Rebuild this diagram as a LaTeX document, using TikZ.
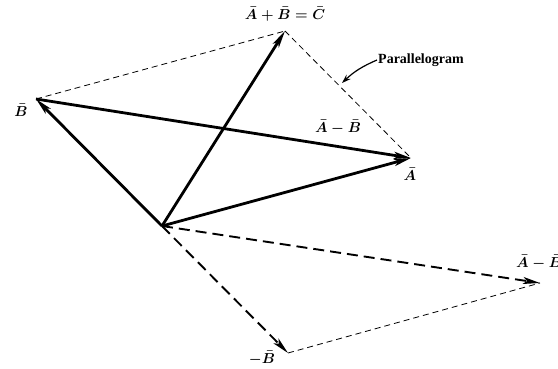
\documentclass[tikz,border=0pt]{standalone}
\usepackage{fontspec}
\setmainfont{Liberation Serif}
\usepackage{amsmath,amssymb}
\usetikzlibrary{arrows.meta, positioning, calc}

\tikzset{
  vec/.style={line width=2.8pt, -{Stealth[length=17pt, width=7pt, inset=4pt]}},
  dvec/.style={line width=1.9pt, dash pattern=on 11pt off 6pt, -{Stealth[length=17pt, width=7pt, inset=4pt]}},
  side/.style={line width=0.8pt, dash pattern=on 6pt off 4pt},
  lbl/.style={font=\fontsize{14}{16}\selectfont\boldmath, inner sep=1pt}
}

\begin{document}
\begin{tikzpicture}[x=1pt, y=-1pt]

% Frame
\useasboundingbox (0,0) rectangle (558,368);

% Points
\coordinate (O) at (162,226);
\coordinate (A) at (411,158);
\coordinate (B) at (36,99);
\coordinate (C) at (285,31);
\coordinate (nB) at (288,353);
\coordinate (AmB) at (540,283);

% --- Parallelogram sides ---
\draw[side] (B) -- (C);
\draw[side] (C) -- (A);
\draw[side] (nB) -- (AmB);

% --- Dashed vectors ---
\draw[dvec] (O) -- (nB);
\draw[dvec] (O) -- (AmB);

% --- Solid vectors ---
\draw[vec] (O) -- (B);
\draw[vec] (O) -- (C);
\draw[vec] (O) -- (A);
\draw[vec] (B) -- (A);

% Labels
\node[lbl] (lC) at (285,14) {$\bar{A} + \bar{B} = \bar{C}$};
\node[lbl] (lB) at (21,110) {$\bar{B}$};
\node[lbl] (lA) at (410,174) {$\bar{A}$};
\node[lbl] (lAB) at (338,127) {$\bar{A} - \bar{B}$};
\node[lbl, anchor=west] (lAmB) at (515,262) {$\bar{A} - \bar{B}$};
\node[lbl] (lnB) at (262,358) {$-\bar{B}$};

% Parallelogram note
\node[font=\fontsize{14}{16}\selectfont\bfseries, anchor=west, inner sep=1pt] (lP) at (377,60) {Parallelogram};
\coordinate (Ptip) at (342,83);
\draw[line width=1.2pt, -{Stealth[length=9pt, width=6pt]}] (lP.west) to[bend right=10] (Ptip);

\end{tikzpicture}
\end{document}
